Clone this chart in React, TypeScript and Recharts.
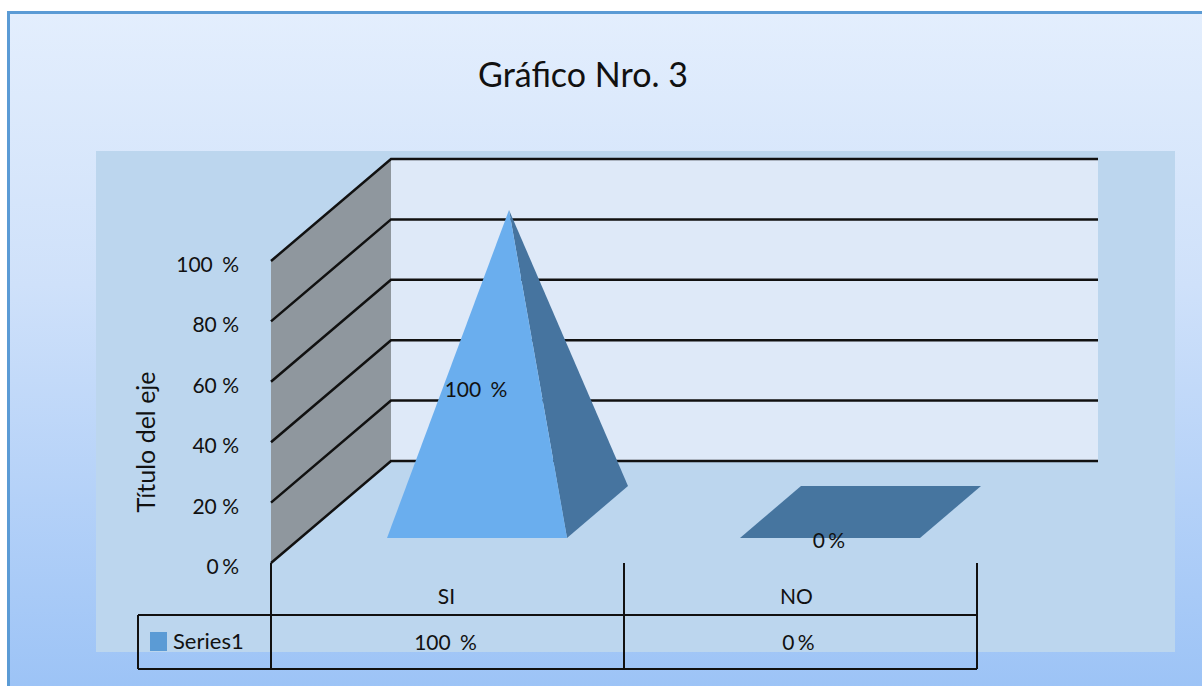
import React from 'react';
import { BarChart, Bar, XAxis, YAxis, ReferenceArea, LabelList } from 'recharts';

const categories = ['SI', 'NO'];
const seriesName = 'Series1';
const seriesValues = [100, 0];
const yTicks = [0, 20, 40, 60, 80, 100];
const titleText = 'Gráfico Nro. 3';
const axisTitle = 'Título del eje';

const data = categories.map((c, i) => ({ category: c, value: seriesValues[i] }));

const FONT = 'Lato, sans-serif';
const TEXT = '#111';
const DEPTH_X = 120;
const DEPTH_Y = 102;
const TABLE_ROW1 = 615;
const TABLE_BOTTOM = 669;
const TABLE_LEFT = 138;
const FS = 21;

const fmt = (v: number) => `${v} %`;
const gapFor = (v: number) => (v === 100 ? 4 : v === 0 ? -2 : 0);

const Frame = (p: any) => {
  const { x, y, width, height } = p;
  const bottom = y + height;
  const right = x + width;
  const ys = yTicks.map((t) => bottom - (height * t) / 100);
  const mid = x + width / 2;
  return (
    <g>
      <polygon
        points={`${x},${y} ${x + DEPTH_X},${y - DEPTH_Y} ${x + DEPTH_X},${bottom - DEPTH_Y} ${x},${bottom}`}
        fill="#8f979e"
      />
      <rect x={x + DEPTH_X} y={y - DEPTH_Y} width={width + 1} height={height} fill="#dee9f8" />
      {ys.map((gy, i) => (
        <path
          key={i}
          d={`M${x},${gy} L${x + DEPTH_X},${gy - DEPTH_Y} L${right + DEPTH_X + 1},${gy - DEPTH_Y}`}
          fill="none"
          stroke="#111"
          strokeWidth={2.5}
        />
      ))}
      <g stroke="#111" strokeWidth={2} fill="none">
        <line x1={x} y1={bottom} x2={x} y2={TABLE_BOTTOM} />
        <line x1={mid} y1={bottom} x2={mid} y2={TABLE_BOTTOM} />
        <line x1={right} y1={bottom} x2={right} y2={TABLE_BOTTOM} />
        <line x1={TABLE_LEFT} y1={TABLE_ROW1} x2={right} y2={TABLE_ROW1} />
        <line x1={TABLE_LEFT} y1={TABLE_BOTTOM} x2={right} y2={TABLE_BOTTOM} />
        <line x1={TABLE_LEFT} y1={TABLE_ROW1} x2={TABLE_LEFT} y2={TABLE_BOTTOM} />
      </g>
      <rect x={150} y={632} width={17} height={19} fill="#5b9bd5" />
      <text x={173} y={649} fontFamily={FONT} fontSize={22} fill={TEXT}>
        {seriesName}
      </text>
    </g>
  );
};

const Pyramid = (p: any) => {
  const { x, y, width, height } = p;
  const bottom = y + height;
  const fx = x + 29;
  const fy = bottom - 25;
  const bx = 61;
  const by = 52;
  if (height < 1) {
    return (
      <polygon
        points={`${fx},${fy} ${fx + width},${fy} ${fx + width + bx},${fy - by} ${fx + bx},${fy - by}`}
        fill="#46759f"
      />
    );
  }
  const ax = fx + width / 2 + 32;
  const ay = y - 51;
  return (
    <g>
      <polygon points={`${fx + width},${fy} ${fx + width + bx},${fy - by} ${ax},${ay}`} fill="#46749f" />
      <polygon points={`${fx},${fy} ${fx + width},${fy} ${ax},${ay}`} fill="#6aaeee" />
    </g>
  );
};

const BarLabel = (p: any) => {
  const { x, y, width, height, value } = p;
  return (
    <text
      x={x + width / 2 + 28}
      y={y + height / 2 - 15}
      textAnchor="middle"
      fontFamily={FONT}
      fontSize={FS}
      fill={TEXT}
      wordSpacing={gapFor(value)}
    >
      {fmt(value)}
    </text>
  );
};

const YTick = (p: any) => {
  const { x, y, payload } = p;
  return (
    <text x={x - 24} y={y + 11} textAnchor="end" fontFamily={FONT} fontSize={FS} fill={TEXT} wordSpacing={gapFor(payload.value)}>
      {fmt(payload.value)}
    </text>
  );
};

const XTick = (p: any) => {
  const { x, payload, index } = p;
  const v = seriesValues[index];
  return (
    <g>
      <text x={index === 1 ? x - 4 : x - 1} y={604} textAnchor="middle" fontFamily={FONT} fontSize={FS} fill={TEXT}>
        {payload.value}
      </text>
      <text x={x - 2} y={650} textAnchor="middle" fontFamily={FONT} fontSize={FS} fill={TEXT} wordSpacing={gapFor(v)}>
        {fmt(v)}
      </text>
    </g>
  );
};

const AxisTitle = (p: any) => {
  const vb = p.viewBox;
  const cx = vb.x + 4;
  const cy = vb.y + vb.height / 2 + 30;
  return (
    <text
      transform={`rotate(-90 ${cx} ${cy})`}
      x={cx}
      y={cy}
      textAnchor="middle"
      fontFamily={FONT}
      fontSize={25}
      fill={TEXT}
    >
      {axisTitle}
    </text>
  );
};

export default function App() {
  return (
    <div style={{ position: 'absolute', left: 0, top: 0, width: 1202, height: 686, background: '#fff', overflow: 'hidden' }}>
      <div
        style={{
          position: 'absolute',
          left: 7,
          top: 11,
          width: 1200,
          height: 680,
          boxSizing: 'border-box',
          borderLeft: '3px solid #5b9bd5',
          borderTop: '3px solid #5b9bd5',
          background: 'linear-gradient(180deg, #e3eefd 0%, #cfe1fa 40%, #9cc3f6 100%)',
        }}
      />
      <div style={{ position: 'absolute', left: 96, top: 151, width: 1079, height: 501, background: '#bcd6ee' }} />
      <div
        style={{
          position: 'absolute',
          left: 383,
          width: 400,
          top: 54,
          textAlign: 'center',
          fontFamily: FONT,
          fontSize: 34,
          lineHeight: '40px',
          color: TEXT,
        }}
      >
        {titleText}
      </div>
      <div style={{ position: 'absolute', left: 0, top: 0 }}>
        <BarChart
          width={1202}
          height={686}
          data={data}
          margin={{ top: 261, right: 225, bottom: 83, left: 151 }}
          barSize={180}
        >
          <XAxis dataKey="category" height={40} axisLine={false} tickLine={false} tick={<XTick />} interval={0} />
          <YAxis
            width={120}
            domain={[0, 100]}
            ticks={yTicks}
            axisLine={false}
            tickLine={false}
            tick={<YTick />}
            label={<AxisTitle />}
          />
          <ReferenceArea x1="SI" x2="NO" y1={0} y2={100} shape={<Frame />} ifOverflow="visible" />
          <Bar dataKey="value" name={seriesName} shape={<Pyramid />} isAnimationActive={false}>
            <LabelList dataKey="value" content={<BarLabel />} />
          </Bar>
        </BarChart>
      </div>
    </div>
  );
}
